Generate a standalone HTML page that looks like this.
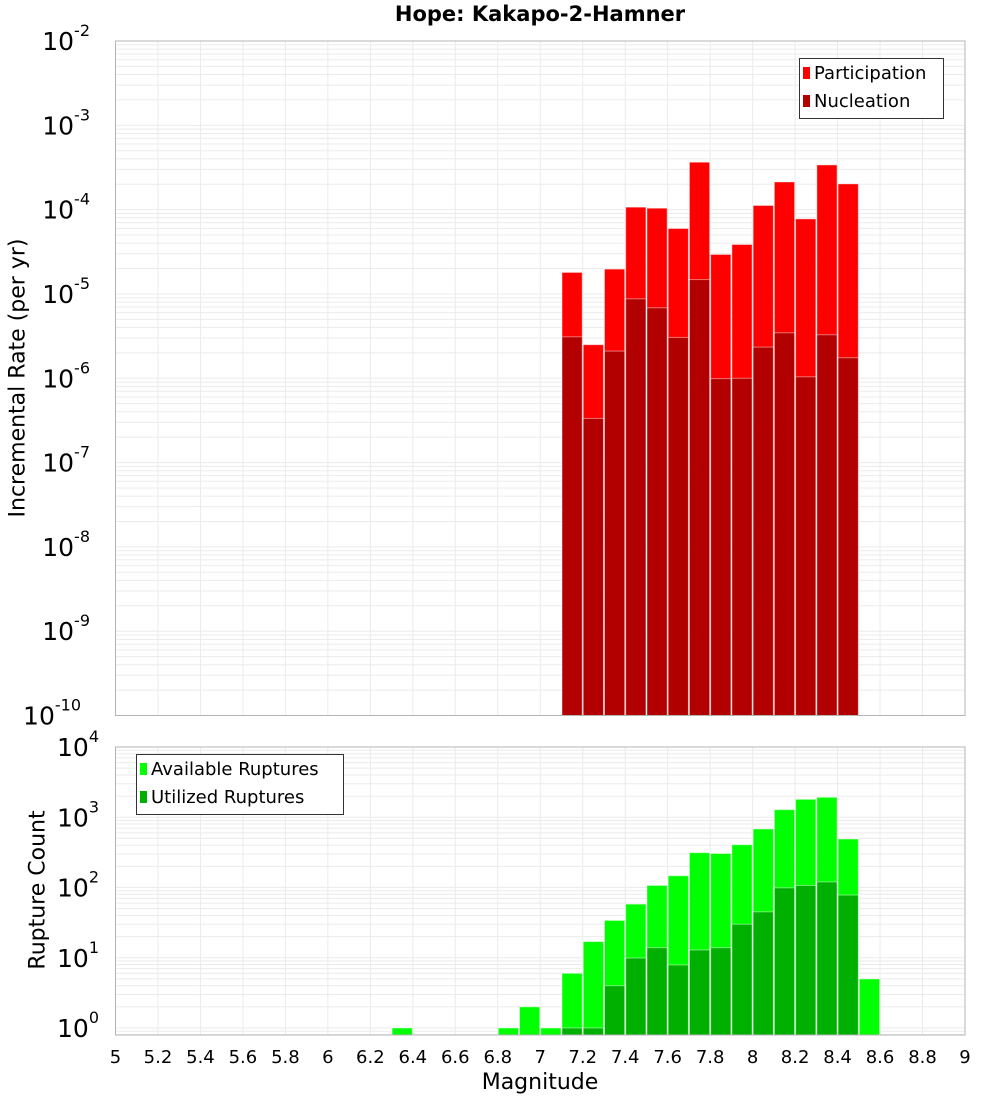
<!DOCTYPE html>
<html><head><meta charset="utf-8"><style>
body{margin:0;background:#fff;}
svg text{font-family:"DejaVu Sans","Liberation Sans",sans-serif;}
</style></head><body>
<svg id="c" width="1000" height="1100" xmlns="http://www.w3.org/2000/svg"></svg>
<script>
const bins = [7.15,7.25,7.35,7.45,7.55,7.65,7.75,7.85,7.95,8.05,8.15,8.25,8.35,8.45];
const participation = [1.8e-5,2.5e-6,1.97e-5,1.07e-4,1.04e-4,5.97e-5,3.65e-4,2.94e-5,3.86e-5,1.12e-4,2.13e-4,7.76e-5,3.39e-4,2.02e-4];
const nucleation = [3.1e-6,3.34e-7,2.1e-6,8.75e-6,6.85e-6,3.05e-6,1.48e-5,9.9e-7,1.0e-6,2.34e-6,3.46e-6,1.04e-6,3.28e-6,1.75e-6];
const countBins = [6.35,6.85,6.95,7.05,7.15,7.25,7.35,7.45,7.55,7.65,7.75,7.85,7.95,8.05,8.15,8.25,8.35,8.45,8.55];
const available = [1,1,2,1,6,17,34,58,107,147,313,305,406,681,1282,1800,1923,490,5];
const utilizedBins = [7.15,7.25,7.35,7.45,7.55,7.65,7.75,7.85,7.95,8.05,8.15,8.25,8.35,8.45];
const utilized = [1,1,4,9.9,13.9,7.9,12.9,13.9,30,45,99,107,120,78];
const xTicks = [5,5.2,5.4,5.6,5.8,6,6.2,6.4,6.6,6.8,7,7.2,7.4,7.6,7.8,8,8.2,8.4,8.6,8.8,9];
const topExps = [-2,-3,-4,-5,-6,-7,-8,-9,-10];
const botExps = [4,3,2,1,0];

const NS="http://www.w3.org/2000/svg", svg=document.getElementById('c');
function el(t,a,p){const e=document.createElementNS(NS,t);for(const k in a)e.setAttribute(k,a[k]);(p||svg).appendChild(e);return e;}
const L=115.5,R=965,BW=0.1;
const x=v=>L+(v-5)/4*(R-L);
const T1=41,B1=715.5,yTop=v=>T1+(-2-Math.log10(v))/8*(B1-T1);
const T2=747,B2=1035,D2=70.25,yBot=v=>T2+(4-Math.log10(v))*D2;

function grid(T,B,yf,lo,hi){
  const g=el('g',{});
  
  
  for(let e=lo;e<hi;e++)for(let m=1;m<10;m++){const v=m*Math.pow(10,e),yy=yf(v);if(yy>=T&&yy<=B)el('line',{x1:L,x2:R,y1:yy,y2:yy,stroke:'#ebebeb','stroke-width':1},g);}
  xTicks.forEach(t=>el('line',{x1:x(t),x2:x(t),y1:T,y2:B,stroke:'#ebebeb','stroke-width':1},g));
}
grid(T1,B1,yTop,-10,-2);
grid(T2,B2,yBot,-1,4);

function bars(bx,vals,yf,B,fill,name){
  bx.forEach((b,i)=>{const x0=x(b-BW/2)+0.5,x1=x(b+BW/2)-0.5,yy=yf(vals[i]);
    const r=el('rect',{x:x0,y:yy,width:x1-x0,height:B-yy,fill:fill,stroke:'rgba(255,255,255,0.45)','stroke-width':1});
    
    });
}
bars(bins,participation,yTop,B1,'#ff0000','participation-bar');
bars(bins,nucleation,yTop,B1,'#b20000','nucleation-bar');
bars(countBins,available,yBot,B2,'#00ff00','available-bar');
bars(utilizedBins,utilized,yBot,B2,'#00b000','utilized-bar');

el('rect',{x:L,y:T1,width:R-L,height:B1-T1,fill:'none',stroke:'#b4b4b4'});
el('rect',{x:L,y:T2,width:R-L,height:B2-T2,fill:'none',stroke:'#b4b4b4'});

function ylabel(e,yy,name){
  const t=el('text',{x:108,y:yy+9,'text-anchor':'end','font-size':25,fill:'#000'});
  
  
  t.textContent='10';
  const s=el('tspan',{dy:-14,'font-size':16});s.textContent=String(e);t.appendChild(s);
  // shift so superscript ends at 108
  t.setAttribute('x',108-(String(e).length*9));
}
topExps.forEach(e=>ylabel(e,yTop(Math.pow(10,e)),'y-tick-top'));
botExps.forEach(e=>ylabel(e,yBot(Math.pow(10,e)),'y-tick-bottom'));
xTicks.forEach(t=>{const tx=el('text',{x:x(t),y:1063,'text-anchor':'middle','font-size':18});
  
  
  tx.textContent=String(t);});
</script>
<div style="position:absolute;left:0;top:0;width:1000px;height:1100px;pointer-events:none;font-family:'DejaVu Sans','Liberation Sans',sans-serif;">
<div style="position:absolute;left:0;width:1080px;top:2px;text-align:center;font-weight:bold;font-size:21px;">Hope: Kakapo-2-Hamner</div>
<div style="position:absolute;left:18px;top:378px;transform:translate(-50%,-50%) rotate(-90deg);transform-origin:center;white-space:nowrap;font-size:22px;left:18px;">Incremental Rate (per yr)</div>
<div style="position:absolute;left:38px;top:890px;transform:translate(-50%,-50%) rotate(-90deg);white-space:nowrap;font-size:22px;">Rupture Count</div>
<div style="position:absolute;left:540px;top:1070px;transform:translateX(-50%);font-size:22px;">Magnitude</div>
<div style="position:absolute;left:799px;top:58px;width:143px;height:59px;border:1px solid #333;background:#fff;font-size:18px;">
 <div style="position:absolute;left:3px;top:4px;white-space:nowrap;"><span style="display:inline-block;width:7px;height:12px;background:#f00;margin-right:4px;"></span>Participation</div>
 <div style="position:absolute;left:3px;top:32px;white-space:nowrap;"><span style="display:inline-block;width:7px;height:12px;background:#b20000;margin-right:4px;"></span>Nucleation</div>
</div>
<div style="position:absolute;left:136px;top:754px;width:206px;height:59px;border:1px solid #333;background:#fff;font-size:18px;">
 <div style="position:absolute;left:3px;top:4px;white-space:nowrap;"><span style="display:inline-block;width:7px;height:12px;background:#0f0;margin-right:4px;"></span>Available Ruptures</div>
 <div style="position:absolute;left:3px;top:32px;white-space:nowrap;"><span style="display:inline-block;width:7px;height:12px;background:#00b000;margin-right:4px;"></span>Utilized Ruptures</div>
</div>
</div>
</body></html>
